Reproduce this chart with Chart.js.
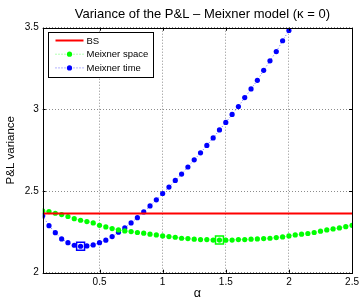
<!DOCTYPE html>
<html>
<head>
  <title>Variance of the P&amp;L</title>
  <script src="https://cdn.jsdelivr.net/npm/chart.js"></script>
  <style>
    body { margin: 0; background: #fff; }
    #wrap { width: 363px; height: 300px; }
  </style>
</head>
<body>
<div id="wrap"><canvas id="myChart"></canvas></div>

<script>
  // alpha grid (x axis)
  const alpha = [0.05, 0.1, 0.15, 0.2, 0.25, 0.3, 0.35, 0.4, 0.45, 0.5,
                 0.55, 0.6, 0.65, 0.7, 0.75, 0.8, 0.85, 0.9, 0.95, 1.0,
                 1.05, 1.1, 1.15, 1.2, 1.25, 1.3, 1.35, 1.4, 1.45, 1.5,
                 1.55, 1.6, 1.65, 1.7, 1.75, 1.8, 1.85, 1.9, 1.95, 2.0,
                 2.05, 2.1, 2.15, 2.2, 2.25, 2.3, 2.35, 2.4, 2.45, 2.5];

  const bsVariance = 2.362;

  const meixnerSpace = [2.378, 2.374, 2.364, 2.356, 2.344, 2.331, 2.321, 2.313, 2.305, 2.290,
                        2.280, 2.270, 2.262, 2.256, 2.252, 2.246, 2.242, 2.236, 2.231, 2.225,
                        2.221, 2.217, 2.211, 2.209, 2.205, 2.203, 2.203, 2.200, 2.200, 2.199,
                        2.200, 2.203, 2.203, 2.205, 2.207, 2.209, 2.211, 2.215, 2.219, 2.225,
                        2.231, 2.236, 2.240, 2.246, 2.254, 2.262, 2.268, 2.274, 2.282, 2.290];

  // Meixner time leaves the plot above alpha = 2
  const meixnerTime = [2.348, 2.288, 2.245, 2.207, 2.184, 2.168, 2.162, 2.164, 2.170, 2.184,
                       2.199, 2.221, 2.248, 2.274, 2.305, 2.337, 2.372, 2.409, 2.446, 2.485,
                       2.524, 2.565, 2.604, 2.647, 2.691, 2.734, 2.779, 2.825, 2.874, 2.920,
                       2.969, 3.017, 3.072, 3.125, 3.178, 3.239, 3.297, 3.354, 3.420, 3.483];

  // minima marked with squares
  const minSpace = [1.45, 2.200];
  const minTime = [0.35, 2.162];

  const xTicks = [0.5, 1, 1.5, 2, 2.5];
  const yTicks = [2, 2.5, 3, 3.5];

  const titleText = 'Variance of the P&L \u2013 Meixner model (\u03BA = 0)';

  const FONT = "'Liberation Sans', Helvetica, Arial, sans-serif";

  function pts(xs, ys) {
    return ys.map((v, i) => ({ x: xs[i], y: v }));
  }

  // title, box, inner tick marks and the legend, matlab style
  const matlabBox = {
    id: 'matlabBox',
    afterDraw(chart) {
      const ctx = chart.ctx;
      const a = chart.chartArea;
      const xs = chart.scales.x, ys = chart.scales.y;
      ctx.save();

      ctx.fillStyle = '#000';
      ctx.font = '13px ' + FONT;
      ctx.textAlign = 'center';
      ctx.textBaseline = 'middle';
      ctx.fillText(titleText, (a.left + a.right) / 2 + 5, a.top - 13.5);
      ctx.textAlign = 'left';

      ctx.strokeStyle = '#000';
      ctx.lineWidth = 1;
      ctx.setLineDash([]);
      ctx.strokeRect(Math.round(a.left) + 0.5, Math.round(a.top) + 0.5,
                     Math.round(a.right - a.left), Math.round(a.bottom - a.top));
      ctx.beginPath();
      xTicks.forEach(t => {
        const px = Math.round(xs.getPixelForValue(t)) + 0.5;
        ctx.moveTo(px, a.bottom); ctx.lineTo(px, a.bottom - 3);
        ctx.moveTo(px, a.top); ctx.lineTo(px, a.top + 3);
      });
      yTicks.forEach(t => {
        const py = Math.round(ys.getPixelForValue(t)) + 0.5;
        ctx.moveTo(a.left, py); ctx.lineTo(a.left + 3, py);
        ctx.moveTo(a.right, py); ctx.lineTo(a.right - 3, py);
      });
      ctx.stroke();

      // legend
      const lx = Math.round(a.left) + 5.5, ly = Math.round(a.top) + 4.5;
      const lw = 105, lh = 45;
      ctx.fillStyle = '#fff';
      ctx.fillRect(lx, ly, lw, lh);
      ctx.strokeRect(lx, ly, lw, lh);
      ctx.font = '9.5px ' + FONT;
      let row = 0;
      chart.data.datasets.forEach(ds => {
        if (!ds.label) return;
        const cy = ly + 8 + row * 13.7;
        ctx.beginPath();
        ctx.strokeStyle = ds.borderColor;
        ctx.lineWidth = ds.borderWidth;
        ctx.setLineDash(ds.borderDash || []);
        ctx.moveTo(lx + 7, cy); ctx.lineTo(lx + 35, cy);
        ctx.stroke();
        ctx.setLineDash([]);
        if (ds.pointRadius > 0) {
          ctx.beginPath();
          ctx.fillStyle = ds.pointBackgroundColor;
          ctx.arc(lx + 21, cy, ds.pointRadius, 0, Math.PI * 2);
          ctx.fill();
        }
        ctx.fillStyle = '#000';
        ctx.fillText(ds.label, lx + 38, cy + 0.5);
        row++;
      });
      ctx.restore();
    }
  };

  const myChart = new Chart(document.getElementById('myChart'), {
    type: 'line',
    data: {
      datasets: [
        {
          label: 'BS',
          data: [{ x: alpha[0], y: bsVariance }, { x: alpha[alpha.length - 1], y: bsVariance }],
          borderColor: '#ff0000',
          borderWidth: 2,
          pointRadius: 0
        },
        {
          label: 'Meixner space',
          data: pts(alpha, meixnerSpace),
          borderColor: 'rgba(0,255,0,0.6)',
          borderWidth: 1,
          borderDash: [1, 2],
          pointRadius: 2.6,
          pointBorderWidth: 0,
          pointBackgroundColor: '#00ff00'
        },
        {
          label: 'Meixner time',
          data: pts(alpha, meixnerTime),
          borderColor: 'rgba(0,0,255,0.6)',
          borderWidth: 1,
          borderDash: [1, 2],
          pointRadius: 2.6,
          pointBorderWidth: 0,
          pointBackgroundColor: '#0000ff'
        },
        {
          data: [{ x: minSpace[0], y: minSpace[1] }],
          showLine: false,
          pointStyle: 'rect',
          pointRadius: 5.6,
          pointBorderWidth: 1.5,
          pointBorderColor: '#00ff00',
          pointBackgroundColor: 'rgba(0,0,0,0)'
        },
        {
          data: [{ x: minTime[0], y: minTime[1] }],
          showLine: false,
          pointStyle: 'rect',
          pointRadius: 5.6,
          pointBorderWidth: 1.5,
          pointBorderColor: '#0000ff',
          pointBackgroundColor: 'rgba(0,0,0,0)'
        }
      ]
    },
    options: {
      responsive: true,
      maintainAspectRatio: false,
      animation: false,
      devicePixelRatio: 1,
      layout: { padding: { left: 0, right: 8, top: 27.7, bottom: 0 } },
      plugins: {
        legend: { display: false },
        tooltip: { enabled: false },
        title: { display: false }
      },
      scales: {
        x: {
          type: 'linear',
          min: 0.05,
          max: 2.5,
          afterBuildTicks: s => { s.ticks = xTicks.map(v => ({ value: v })); },
          afterFit: s => { s.height = 27.3; },
          ticks: {
            color: '#000',
            padding: 4,
            maxRotation: 0,
            font: { family: FONT, size: 10 },
            callback: v => String(v)
          },
          grid: { color: 'rgba(0,0,0,0.45)', drawTicks: false },
          border: { display: false, dash: [1, 2] },
          title: {
            display: true,
            text: '\u03B1',
            color: '#000',
            font: { family: FONT, size: 12.5, lineHeight: 1 },
            padding: { top: 0, bottom: 0 }
          }
        },
        y: {
          min: 2,
          max: 3.5,
          afterBuildTicks: s => { s.ticks = yTicks.map(v => ({ value: v })); },
          afterFit: s => { s.width = 42.7; },
          ticks: {
            color: '#000',
            padding: 4,
            font: { family: FONT, size: 10 },
            callback: v => String(v)
          },
          grid: { color: 'rgba(0,0,0,0.45)', drawTicks: false },
          border: { display: false, dash: [1, 2] },
          title: {
            display: true,
            text: 'P&L variance',
            color: '#000',
            font: { family: FONT, size: 11.5 },
            padding: { top: 4, bottom: 0 }
          }
        }
      }
    },
    plugins: [matlabBox]
  });
</script>
</body>
</html>
